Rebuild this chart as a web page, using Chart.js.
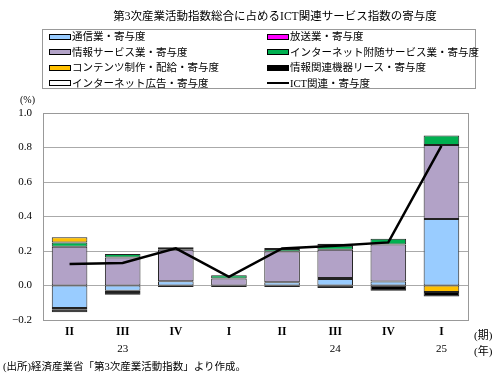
<!DOCTYPE html>
<html lang="ja">
  <head>
    <meta charset="UTF-8" />
    <title>ICT関連サービス指数の寄与度</title>
    <script src="https://cdn.jsdelivr.net/npm/chart.js@4.4.0/dist/chart.umd.min.js"></script>
    <style>
      body { margin: 0; background: #fff; }
      #wrap { position: relative; width: 503px; height: 387px; font-family: 'Liberation Serif', 'Noto Sans CJK JP', serif; color: #000; }
      #chart { position: absolute; left: 0; top: 0; }
      .txt { position: absolute; white-space: nowrap; }
      #title { left: 0; width: 550px; top: 7px; text-align: center; font-size: 11.5px; }
      #legend { position: absolute; left: 42px; top: 29px; width: 434px; height: 60px; border: 1px solid #999; box-sizing: border-box; }
      .item { position: absolute; font-size: 10.5px; line-height: 14px; height: 14px; white-space: nowrap; }
      .sw { display: inline-block; width: 20px; height: 4px; border: 1px solid #000; vertical-align: middle; margin-right: 1px; position: relative; top: -1px; }
      .ln { display: inline-block; width: 22px; height: 2px; background: #000; vertical-align: middle; margin-right: 1px; position: relative; top: -1px; }
    </style>
  </head>
  <body>
    <div id="wrap">
      <canvas id="chart" width="503" height="387"></canvas>
      <div class="txt" id="title">第3次産業活動指数総合に占めるICT関連サービス指数の寄与度</div>
      <div id="legend"></div>
      <div class="txt" style="left:20px;top:94px;font-size:10px;">(%)</div>
      <div class="txt" style="left:474px;top:326px;font-size:11px;">(期)</div>
      <div class="txt" style="left:474px;top:342px;font-size:11px;">(年)</div>
      <div class="txt" style="left:3px;top:358px;font-size:10.5px;">(出所)経済産業省「第3次産業活動指数」より作成。</div>
    </div>
    <script>
      // quarter labels + year under some of them
      const quarters = ['II', 'III', 'IV', 'I', 'II', 'III', 'IV', 'I']
      const years = ['', '23', '', '', '', '24', '', '25']

      const tsushin = [-0.13, -0.03, 0.025, 0.0, 0.019, 0.037, 0.023, 0.385]
      const hoso = [-0.01, 0.0, 0.0, 0.0, 0.0, 0.006, 0.0, 0.0]
      const johoService = [0.225, 0.163, 0.182, 0.04, 0.178, 0.164, 0.215, 0.43]
      const internetFuzui = [0.025, 0.02, 0.01, 0.02, 0.015, 0.023, 0.033, 0.054]
      const contents = [0.03, -0.008, 0.005, 0.0, 0.005, 0.012, 0.0, -0.037]
      const lease = [-0.015, -0.015, -0.008, -0.008, -0.008, -0.015, -0.03, -0.027]
      const kokoku = [0, 0, 0, 0, 0, 0, 0, 0]
      const ictTotal = [0.125, 0.13, 0.215, 0.05, 0.215, 0.23, 0.25, 0.81]

      const barSeries = [
        { label: '通信業・寄与度', data: tsushin, color: '#99ccff' },
        { label: '放送業・寄与度', data: hoso, color: '#ff00ff' },
        { label: '情報サービス業・寄与度', data: johoService, color: '#b2a2c7' },
        { label: 'インターネット附随サービス業・寄与度', data: internetFuzui, color: '#00b050' },
        { label: 'コンテンツ制作・配給・寄与度', data: contents, color: '#ffc000' },
        { label: '情報関連機器リース・寄与度', data: lease, color: '#000000' },
        { label: 'インターネット広告・寄与度', data: kokoku, color: '#ffffff' },
      ]

      const datasets = barSeries.map((s) => ({
        type: 'bar',
        label: s.label,
        data: s.data,
        backgroundColor: s.color,
        borderColor: '#222',
        // no outline for empty segments
        borderWidth: (c) => (c.raw === 0 ? 0 : 1),
        borderSkipped: false,
        stack: 'bars',
        order: 1,
        barPercentage: 0.67,
        categoryPercentage: 1.0,
      }))
      datasets.push({
        type: 'line',
        label: 'ICT関連・寄与度',
        data: ictTotal,
        borderColor: '#000',
        borderWidth: 2.5,
        pointRadius: 0,
        tension: 0,
        stack: 'line',
        order: 0,
      })

      // legend in two columns, html
      const legend = document.getElementById('legend')
      const legendItems = barSeries.map((s) => ({ label: s.label, color: s.color, line: false }))
      legendItems.push({ label: 'ICT関連・寄与度', line: true })
      legendItems.forEach((it, i) => {
        const d = document.createElement('div')
        d.className = 'item'
        d.style.left = (i % 2 === 0 ? 6 : 224) + 'px'
        d.style.top = (0 + Math.floor(i / 2) * 15.5) + 'px'
        d.innerHTML = (it.line ? '<span class="ln"></span>' : '<span class="sw" style="background:' + it.color + '"></span>') + it.label
        legend.appendChild(d)
      })

      const frame = {
        id: 'frame',
        afterDraw(chart) {
          const a = chart.chartArea
          const c = chart.ctx
          c.save()
          c.strokeStyle = '#999'
          c.lineWidth = 1
          c.strokeRect(Math.round(a.left) + 0.5, Math.round(a.top) + 0.5, Math.round(a.right - a.left), Math.round(a.bottom - a.top))
          // year row under the quarters
          const xs = chart.scales.x
          c.fillStyle = '#000'
          c.font = "11px 'Liberation Serif', serif"
          c.textAlign = 'center'
          c.textBaseline = 'middle'
          years.forEach((y, i) => {
            if (y) c.fillText(y, xs.getPixelForValue(i), a.bottom + 29)
          })
          c.restore()
        },
      }

      Chart.defaults.font.family = "'Liberation Serif', 'Noto Sans CJK JP', serif"
      Chart.defaults.color = '#000'

      const ctx = document.getElementById('chart').getContext('2d')
      const myChart = new Chart(ctx, {
        data: {
          labels: quarters,
          datasets: datasets,
        },
        options: {
          responsive: false,
          animation: false,
          layout: { padding: { top: 113, right: 35, left: 0, bottom: 0 } },
          plugins: { legend: { display: false }, tooltip: { enabled: false } },
          scales: {
            x: {
              stacked: true,
              grid: { display: false, drawTicks: false },
              border: { display: false },
              ticks: { padding: 5, maxRotation: 0, font: { size: 11.5, weight: 'bold' } },
              afterFit: (s) => { s.height = 67 },
            },
            y: {
              stacked: true,
              min: -0.2,
              max: 1.0,
              grid: { color: '#aaa', drawTicks: false },
              border: { display: false },
              ticks: {
                stepSize: 0.2,
                padding: 11,
                font: { size: 11 },
                callback: (v) => (Math.abs(v) < 1e-9 ? '0.0' : v.toFixed(1).replace('-', '−')),
              },
              afterFit: (s) => { s.width = 43 },
            },
          },
        },
        plugins: [frame],
      })
    </script>
  </body>
</html>
